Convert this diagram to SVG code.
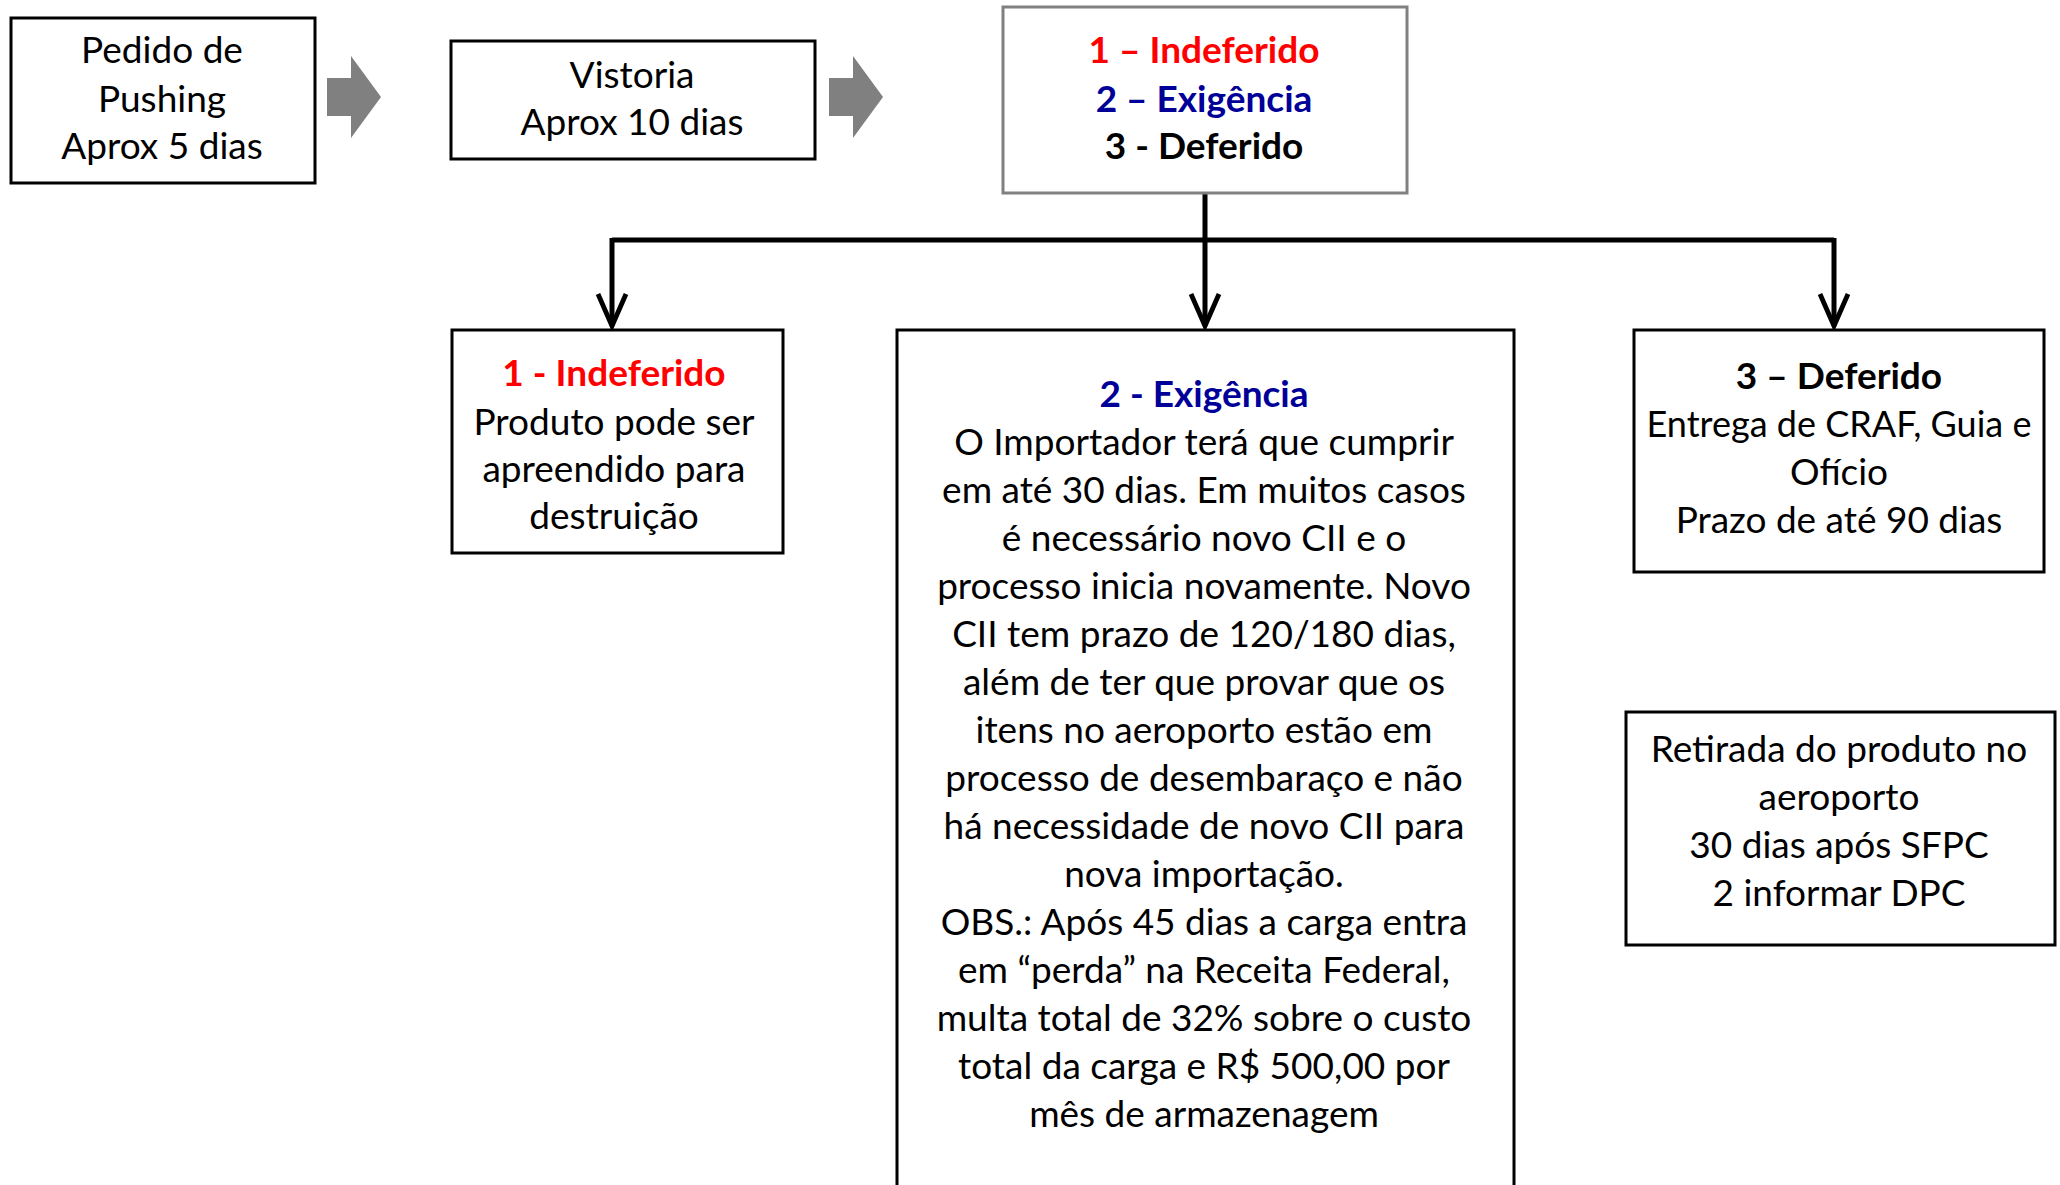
<svg xmlns="http://www.w3.org/2000/svg" width="2060" height="1185" viewBox="0 0 2060 1185">
<style>
.box{fill:#fff;stroke:#000;stroke-width:3}
.gbox{fill:#fff;stroke:#808080;stroke-width:3}
text{font-family:Lato,"Liberation Sans",sans-serif;font-size:37px;text-anchor:middle;fill:#000}
.b{font-weight:bold}
.red{fill:#ff0000;font-weight:bold}
.blue{fill:#000099;font-weight:bold}
.conn{stroke:#000;stroke-width:5;fill:none}
.blk{fill:#808080}
</style>
<defs>
<marker id="ah" markerWidth="8" markerHeight="8" viewBox="0 0 10 10" refX="9" refY="5" orient="auto" markerUnits="strokeWidth">
<path d="M1,1.5 L9,5 L1,8.5" fill="none" stroke="#000" stroke-width="1.2"/>
</marker>
</defs>
<rect width="2060" height="1185" fill="#fff"/>
<g id="connectors">
<line class="conn" x1="1205" y1="193" x2="1205" y2="326" marker-end="url(#ah)"/>
<line class="conn" x1="612" y1="240" x2="1834" y2="240" stroke-width="6"/>
<line class="conn" x1="612" y1="238" x2="612" y2="326" marker-end="url(#ah)"/>
<line class="conn" x1="1834" y1="238" x2="1834" y2="326" marker-end="url(#ah)"/>
<path id="arrow1" class="blk" d="M327,78 L351,78 L351,56 L381,97 L351,138 L351,116 L327,116 Z"/>
<path id="arrow2" class="blk" d="M829,78 L853,78 L853,56 L883,97 L853,138 L853,116 L829,116 Z"/>
</g>
<g id="pedido">
<rect class="box" x="11" y="18" width="304" height="165"/>
<text x="162" y="63">Pedido de</text>
<text x="162" y="112">Pushing</text>
<text x="162" y="159">Aprox 5 dias</text>
</g>
<g id="vistoria">
<rect class="box" x="451" y="41" width="364" height="118"/>
<text x="632" y="88">Vistoria</text>
<text x="632" y="135">Aprox 10 dias</text>
</g>
<g id="resultado">
<rect class="gbox" x="1003" y="7" width="404" height="186"/>
<text class="red" x="1204" y="63">1 – Indeferido</text>
<text class="blue" x="1204" y="112">2 – Exigência</text>
<text class="b" x="1204" y="159">3 - Deferido</text>
</g>
<g id="indeferido">
<rect class="box" x="452" y="330" width="331" height="223"/>
<text class="red" x="614" y="386">1 - Indeferido</text>
<text x="614" y="435">Produto pode ser</text>
<text x="614" y="482">apreendido para</text>
<text x="614" y="529">destruição</text>
</g>
<g id="exigencia">
<rect class="box" x="897" y="330" width="617" height="870"/>
<text class="blue" x="1204" y="407">2 - Exigência</text>
<text x="1204" y="455">O Importador terá que cumprir</text>
<text x="1204" y="503">em até 30 dias. Em muitos casos</text>
<text x="1204" y="551">é necessário novo CII e o</text>
<text x="1204" y="599">processo inicia novamente. Novo</text>
<text x="1204" y="647">CII tem prazo de 120/180 dias,</text>
<text x="1204" y="695">além de ter que provar que os</text>
<text x="1204" y="743">itens no aeroporto estão em</text>
<text x="1204" y="791">processo de desembaraço e não</text>
<text x="1204" y="839">há necessidade de novo CII para</text>
<text x="1204" y="887">nova importação.</text>
<text x="1204" y="935">OBS.: Após 45 dias a carga entra</text>
<text x="1204" y="983">em “perda” na Receita Federal,</text>
<text x="1204" y="1031">multa total de 32% sobre o custo</text>
<text x="1204" y="1079">total da carga e R$ 500,00 por</text>
<text x="1204" y="1127">mês de armazenagem</text>
</g>
<g id="deferido">
<rect class="box" x="1634" y="330" width="410" height="242"/>
<text class="b" x="1839" y="389">3 – Deferido</text>
<text x="1839" y="437" style="font-size:36px">Entrega de CRAF, Guia e</text>
<text x="1839" y="485">Ofício</text>
<text x="1839" y="533">Prazo de até 90 dias</text>
</g>
<g id="retirada">
<rect class="box" x="1626" y="712" width="429" height="233"/>
<text x="1839" y="762">Retirada do produto no</text>
<text x="1839" y="810">aeroporto</text>
<text x="1839" y="858">30 dias após SFPC</text>
<text x="1839" y="906">2 informar DPC</text>
</g>
</svg>
